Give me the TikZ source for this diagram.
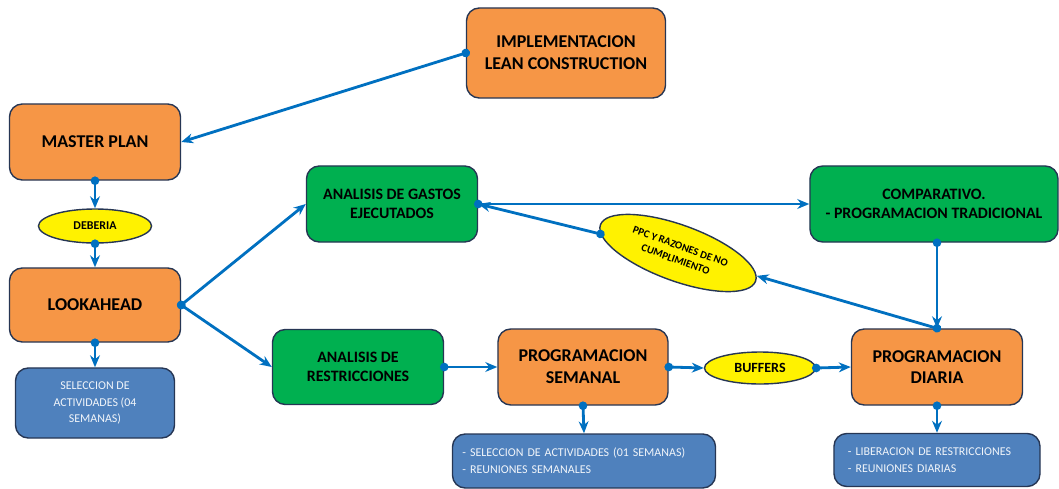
\documentclass[tikz,border=0pt]{standalone}
\usepackage{fontspec}
\setmainfont{Carlito}
\usetikzlibrary{shapes.geometric, arrows.meta, positioning}
\definecolor{boxOrange}{RGB}{246,150,70}
\definecolor{boxGreen}{RGB}{0,176,80}
\definecolor{boxBlue}{RGB}{79,129,189}
\definecolor{lineNavy}{RGB}{38,54,84}
\definecolor{arrowBlue}{RGB}{0,112,192}

\begin{document}
\begin{tikzpicture}[
  x=0.025cm, y=-0.025cm,
  stage/.style={
    rectangle,
    rounded corners=0.32cm,
    draw=lineNavy,
    line width=1pt,
    fill=boxOrange,
    align=center,
    inner sep=0pt,
    font=\fontsize{12.8}{15.5}\selectfont\bfseries
  },
  check/.style={
    stage,
    fill=boxGreen,
    font=\fontsize{11.3}{13.5}\selectfont\bfseries
  },
  task/.style={
    stage,
    fill=boxBlue,
    text=white!92!boxBlue,
    font=\fontsize{8.5}{12}\selectfont
  },
  tag/.style={
    ellipse,
    draw=lineNavy,
    line width=1pt,
    fill=yellow,
    align=center,
    inner sep=0pt,
    font=\fontsize{8.5}{10}\selectfont\bfseries
  },
  arr/.style={{Circle[length=6pt]}-{Stealth[length=8.5pt,width=7pt]}, line width=2pt, color=arrowBlue, shorten <=-3pt},
]
\useasboundingbox (0,0) rectangle (1059,488);

\node[stage, minimum width=4.975cm, minimum height=2.25cm] (lean) at (566,53) {IMPLEMENTACION\\LEAN CONSTRUCTION};

\node[stage, minimum width=4.275cm, minimum height=1.9cm] (master) at (95,142) {MASTER PLAN};

\node[tag, minimum width=2.825cm, minimum height=0.85cm] (deberia) at (95,226) {DEBERIA};

\node[stage, minimum width=4.275cm, minimum height=1.85cm] (look) at (95,305) {LOOKAHEAD};

\node[task, minimum width=3.975cm, minimum height=1.75cm] (sel4) at (95,403)
{SELECCION DE\\ACTIVIDADES (04\\SEMANAS)};

\node[check, minimum width=4.275cm, minimum height=1.9cm] (gastos) at (392,204) {ANALISIS DE GASTOS\\EJECUTADOS};

\node[check, minimum width=6.2cm, minimum height=1.9cm] (comp) at (934,204) {COMPARATIVO.\\- PROGRAMACION TRADICIONAL};

\node[tag, rotate=-20, minimum width=4.125cm, minimum height=1.4cm, font=\fontsize{7.6}{10}\selectfont\bfseries]
(ppc) at (678,253) {PPC Y RAZONES DE NO\\CUMPLIMIENTO};

\node[check, minimum width=4.275cm, minimum height=1.875cm] (restr) at (358,367) {ANALISIS DE\\RESTRICCIONES};

\node[stage, minimum width=4.25cm, minimum height=1.9cm] (semanal) at (583,367) {PROGRAMACION\\SEMANAL};

\node[tag, minimum width=2.775cm, minimum height=0.8cm, font=\fontsize{10}{12}\selectfont\bfseries] (buffers) at (760,368) {BUFFERS};

\node[stage, minimum width=4.275cm, minimum height=1.9cm] (diaria) at (937,367) {PROGRAMACION\\DIARIA};

\node[task, align=left, inner xsep=0.25cm, text width=6.075cm, minimum height=1.35cm]
(sel1) at (584,461) {- SELECCION DE ACTIVIDADES (01 SEMANAS)\\- REUNIONES SEMANALES};

\node[task, align=left, inner xsep=0.35cm, text width=4.45cm, minimum height=1.325cm]
(libera) at (937,460) {- LIBERACION DE RESTRICCIONES\\- REUNIONES DIARIAS};

\draw[arr] (lean.west) -- (master.east);
\draw[arr] (master.south) -- (deberia.north);
\draw[arr] (deberia.south) -- (look.north);
\draw[arr] (look.south) -- (sel4.north);
\draw[arr] (look.east) -- (gastos.west);
\draw[arr] (look.east) -- (restr.west);
\draw[arr] (restr.east) -- (semanal.west);
\draw[arr] (semanal.east) -- (buffers.west);
\draw[arr] (buffers.east) -- (diaria.west);
\draw[arr] (semanal.south) -- (sel1.north);
\draw[arr] (diaria.south) -- (libera.north);
\draw[arr] (gastos.east) -- (comp.west);
\draw[arr] (diaria.north |- comp.south) -- (diaria.north);
\draw[arr] (diaria.north) -- (ppc);
\draw[arr] (ppc) -- (gastos.east);

\end{tikzpicture}
\end{document}
